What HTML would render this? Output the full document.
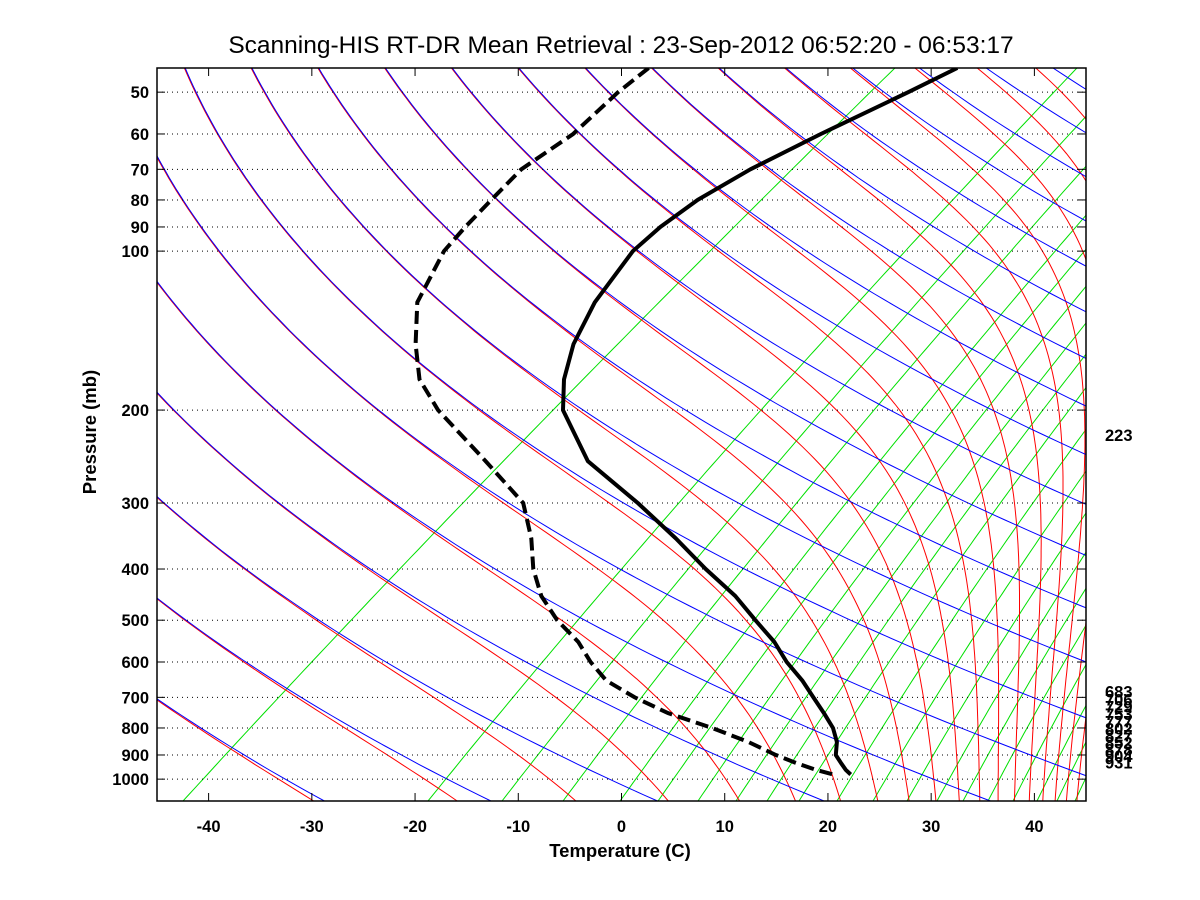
<!DOCTYPE html>
<html><head><meta charset="utf-8"><style>
html,body{margin:0;padding:0;background:#fff;}
svg{display:block;font-family:"Liberation Sans",Arial,sans-serif;}
.tk{font-size:16.5px;font-weight:bold;fill:#000;}
</style></head><body>
<svg id="chart" width="1200" height="900" viewBox="0 0 1200 900" xmlns="http://www.w3.org/2000/svg">
<rect width="1200" height="900" fill="#fff"/>
<text x="621" y="53" text-anchor="middle" font-size="24.5">Scanning-HIS RT-DR Mean Retrieval : 23-Sep-2012 06:52:20 - 06:53:17</text>
<defs><clipPath id="pc"><rect x="157" y="68" width="929" height="733"/></clipPath></defs>
<g id="grid" clip-path="url(#pc)"></g>
<g id="axes"></g>
<text x="620" y="857" text-anchor="middle" font-size="18.5" font-weight="bold">Temperature (C)</text>
<text transform="translate(96,432) rotate(-90)" text-anchor="middle" font-size="18.5" font-weight="bold">Pressure (mb)</text>
</svg>
<script>
// ---- data ----
const pressureLevels = [45,50,60,70,80,90,100,125,150,175,200,250,300,350,400,450,500,550,600,650,700,750,800,850,900,931,960,980];
const temperature = [-60.4,-62.0,-65.0,-67.2,-68.3,-68.4,-67.9,-64.9,-61.5,-57.8,-53.9,-44.8,-34.5,-26.2,-19.3,-12.9,-7.8,-3.1,0.7,4.6,7.9,11.0,13.8,16.0,17.6,19.1,20.5,21.6];
const dewpoint = [-90.3,-90.1,-89.0,-89.4,-88.3,-87.3,-86.2,-82.1,-76.8,-71.8,-66.0,-54.7,-45.6,-40.2,-36.0,-31.7,-27.0,-22.1,-18.3,-14.4,-9.4,-4.1,2.1,7.4,11.8,14.7,17.6,19.9];
const xTicks = [-40,-30,-20,-10,0,10,20,30,40];
const pTicks = [50,60,70,80,90,100,200,300,400,500,600,700,800,900,1000];
const levelLabels = [223,683,706,729,753,777,802,827,852,878,904,931];

// ---- axes functions ----
const X0=157,X1=1086,Y0=68,Y1=801,PB=1100,PT=45,SKEW=69;
const TMIN=-45,TMAX=45;
const pxPerC=(X1-X0)/(TMAX-TMIN);
const pxPerDec=(Y1-Y0)/Math.log10(PB/PT);
function yOf(p){return Y1-pxPerDec*Math.log10(PB/p);}
function xOf(T,p){return X0+pxPerC*(T+SKEW*Math.log10(1000/p)-TMIN);}
const NS='http://www.w3.org/2000/svg';
const grid=document.getElementById('grid'),axes=document.getElementById('axes');
function mk(tag,attrs,parent){const e=document.createElementNS(NS,tag);for(const k in attrs)e.setAttribute(k,attrs[k]);parent.appendChild(e);return e;}
const plevs=[];for(let i=0;i<=120;i++)plevs.push(PB*Math.pow(PT/PB,i/120));
function es(Tc){return 6.112*Math.exp(17.67*Tc/(Tc+243.5));}
function pathFrom(pts){return pts.map((q,i)=>(i?'L':'M')+q[0].toFixed(1)+' '+q[1].toFixed(1)).join(' ');}

// mixing ratio lines (green)
const mixBottomX=[183,428,502,563,620,658,698,736,767,799,837,873,907,937,963,988,1013,1037,1057,1075];
mixBottomX.forEach(bx=>{
  const Tb=(bx-X0)/pxPerC+TMIN-SKEW*Math.log10(1000/PB);
  const e0=es(Tb);const w=622*e0/(PB-e0);
  const pts=plevs.map(p=>{const e=w*p/(622+w);const L=Math.log(e/6.112);const T=243.5*L/(17.67-L);return [xOf(T,p),yOf(p)];});
  const el=mk('path',{d:pathFrom(pts),fill:'none',stroke:'#00e000','stroke-width':1},grid);
  
  
});
const thetas=[];for(let k=-10;k<=32;k++)thetas.push(240.5+15.7*k);
// moist adiabats (red)
thetas.forEach(the=>{
  const pts=plevs.map(p=>{
    let lo=120,hi=360;
    for(let i=0;i<50;i++){const T=(lo+hi)/2;let e=Math.min(es(T-273.15),p*0.9);const ws=0.622*e/(p-e);
      const f=T*Math.pow(1000/p,0.286)*Math.exp(2.5e6*ws/(1004*T))-the; if(f>0)hi=T;else lo=T;}
    return [xOf((lo+hi)/2-273.15,p),yOf(p)];});
  const el=mk('path',{d:pathFrom(pts),fill:'none',stroke:'#ff0000','stroke-width':1},grid);
  
  
});
// dry adiabats (blue)
thetas.forEach(th=>{
  const pts=plevs.map(p=>[xOf(th*Math.pow(p/1000,0.286)-273.15,p)+0.8,yOf(p)]);
  const el=mk('path',{d:pathFrom(pts),fill:'none',stroke:'#0000ff','stroke-width':1},grid);
  
  
});
// pressure gridlines
pTicks.forEach(p=>{
  const el=mk('line',{x1:X0,x2:X1,y1:yOf(p),y2:yOf(p),stroke:'#000','stroke-width':1,'stroke-dasharray':'1 4'},grid);
  
  
});
// profiles
const tPts=pressureLevels.map((p,i)=>[xOf(temperature[i],p),yOf(p)]);
const tl=mk('path',{d:pathFrom(tPts),fill:'none',stroke:'#000','stroke-width':4,'stroke-linejoin':'round'},grid);


const dPts=pressureLevels.map((p,i)=>[xOf(dewpoint[i],p),yOf(p)]);
const dl=mk('path',{d:pathFrom(dPts),fill:'none',stroke:'#000','stroke-width':4,'stroke-dasharray':'13 6'},grid);



// frame & ticks
const fr=mk('rect',{x:X0,y:Y0,width:X1-X0,height:Y1-Y0,fill:'none',stroke:'#000','stroke-width':1.5},axes);


xTicks.forEach(t=>{
  const x=X0+pxPerC*(t-TMIN);
  mk('line',{x1:x,x2:x,y1:Y1,y2:Y1-8,stroke:'#000'},axes);
  mk('line',{x1:x,x2:x,y1:Y0,y2:Y0+8,stroke:'#000'},axes);
  const tx=mk('text',{x:x,y:832,'text-anchor':'middle',class:'tk'},axes);
  tx.textContent=t;
  
  
});
pTicks.forEach(p=>{
  const y=yOf(p);
  mk('line',{x1:X0,x2:X0+8,y1:y,y2:y,stroke:'#000'},axes);
  mk('line',{x1:X1,x2:X1-8,y1:y,y2:y,stroke:'#000'},axes);
  const tx=mk('text',{x:149,y:y+6,'text-anchor':'end',class:'tk'},axes);
  tx.textContent=p;
  
  
});
levelLabels.forEach(p=>{
  const tx=mk('text',{x:1105,y:yOf(p)+6,class:'tk'},axes);
  tx.textContent=p;
  
  
});
</script>
</body></html>
